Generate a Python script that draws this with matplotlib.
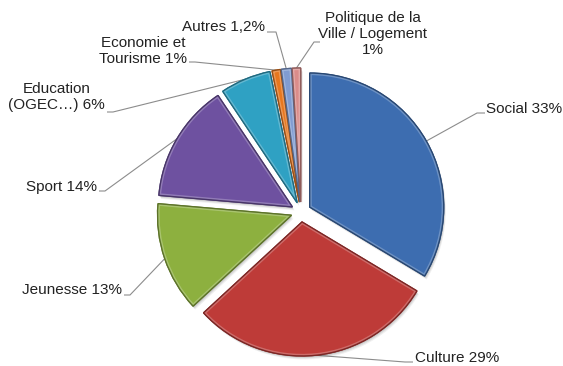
import numpy as np
import matplotlib
matplotlib.use("Agg")
import matplotlib.pyplot as plt
import matplotlib.colors as mcolors
from matplotlib.patches import Wedge

plt.rcParams["font.family"] = ["Liberation Sans", "DejaVu Sans"]

# Budget share by sector (%)
categories = ["Social", "Culture", "Jeunesse", "Sport", "Education\n(OGEC…)",
              "Economie et\nTourisme", "Autres", "Politique de la\nVille / Logement"]
values = [33, 29, 13, 14, 6, 1, 1.2, 1]
value_labels = ["33%", "29%", "13%", "14%", "6%", "1%", "1,2%", "1%"]
label_texts = ["Social 33%", "Culture 29%", "Jeunesse 13%", "Sport 14%",
               "Education\n(OGEC…) 6%", "Economie et\nTourisme 1%",
               "Autres 1,2%", "Politique de la\nVille / Logement\n1%"]
colors = ["#3D6DB0", "#BE3B38", "#8DB03F", "#6E51A0", "#2FA1C3",
          "#E8771E", "#809CD2", "#DB8C8A"]

W, H = 563, 366


def px(x, y):
    """Pixel position (origin top-left) to data coordinates."""
    return x, H - y


fig = plt.figure(figsize=(W / 100, H / 100), dpi=100)
ax = fig.add_axes([0, 0, 1, 1])

center = px(301, 212)
radius = 134
wedges, _ = ax.pie(values, startangle=90, counterclock=False, colors=colors,
                   explode=[10] * len(values), radius=radius, center=center,
                   wedgeprops=dict(linewidth=1.0, zorder=3))

for w, c in zip(wedges, colors):
    rgb = np.array(mcolors.to_rgb(c))
    w.set_edgecolor(tuple(rgb * 0.72))
    # soft drop shadow
    cx, cy = w.center
    for k, a in ((3.5, 0.06), (2.5, 0.08), (1.5, 0.10)):
        sh = Wedge((cx + k * 0.6, cy - k), w.r, w.theta1, w.theta2,
                   facecolor="black", edgecolor="none", alpha=a, zorder=2)
        ax.add_patch(sh)
    # light bevel rim inside the wedge
    rim = Wedge((cx, cy), w.r, w.theta1, w.theta2, facecolor="none",
                edgecolor=tuple(np.clip(rgb + (1 - rgb) * 0.45, 0, 1)),
                linewidth=3.0, alpha=0.55, zorder=4)
    ax.add_patch(rim)
    rim.set_clip_path(w)
    # dark outline on top
    edge = Wedge((cx, cy), w.r, w.theta1, w.theta2, facecolor="none",
                 edgecolor=tuple(rgb * 0.65), linewidth=0.9, zorder=5)
    ax.add_patch(edge)

# label placement: (text x, text y, ha, elbow point, line end) in pixels
layout = [
    (486, 109, "left", (477, 113), (485, 113)),
    (415, 358, "left", (405, 362), (413, 362)),
    (122, 290, "right", (130, 295), (124, 295)),
    (97, 187, "right", (105, 191), (99, 191)),
    (105, 97, "right", (113, 112), (107, 112)),
    (187, 51, "right", (195, 62), (189, 62)),
    (265, 27, "right", (276, 32), (267, 32)),
    (373, 34, "center", (314, 42), (320, 42)),
]

for w, txt, (tx, ty, ha, elbow, end) in zip(wedges, label_texts, layout):
    mid = np.deg2rad((w.theta1 + w.theta2) / 2)
    cx, cy = w.center
    ax_x = cx + w.r * np.cos(mid)
    ax_y = cy + w.r * np.sin(mid)
    ex, ey = px(*elbow)
    nx, ny = px(*end)
    ax.plot([ax_x, ex, nx], [ax_y, ey, ny], color="#8C8C8C", lw=0.8,
            solid_capstyle="butt", zorder=1)
    ax.text(*px(tx, ty), txt, ha=ha, va="center", multialignment="center",
            fontsize=11, color="#222222", linespacing=1.15)

ax.set_xlim(0, W)
ax.set_ylim(0, H)
ax.set_aspect("equal")
ax.axis("off")

fig.savefig("out.png", dpi=100)
